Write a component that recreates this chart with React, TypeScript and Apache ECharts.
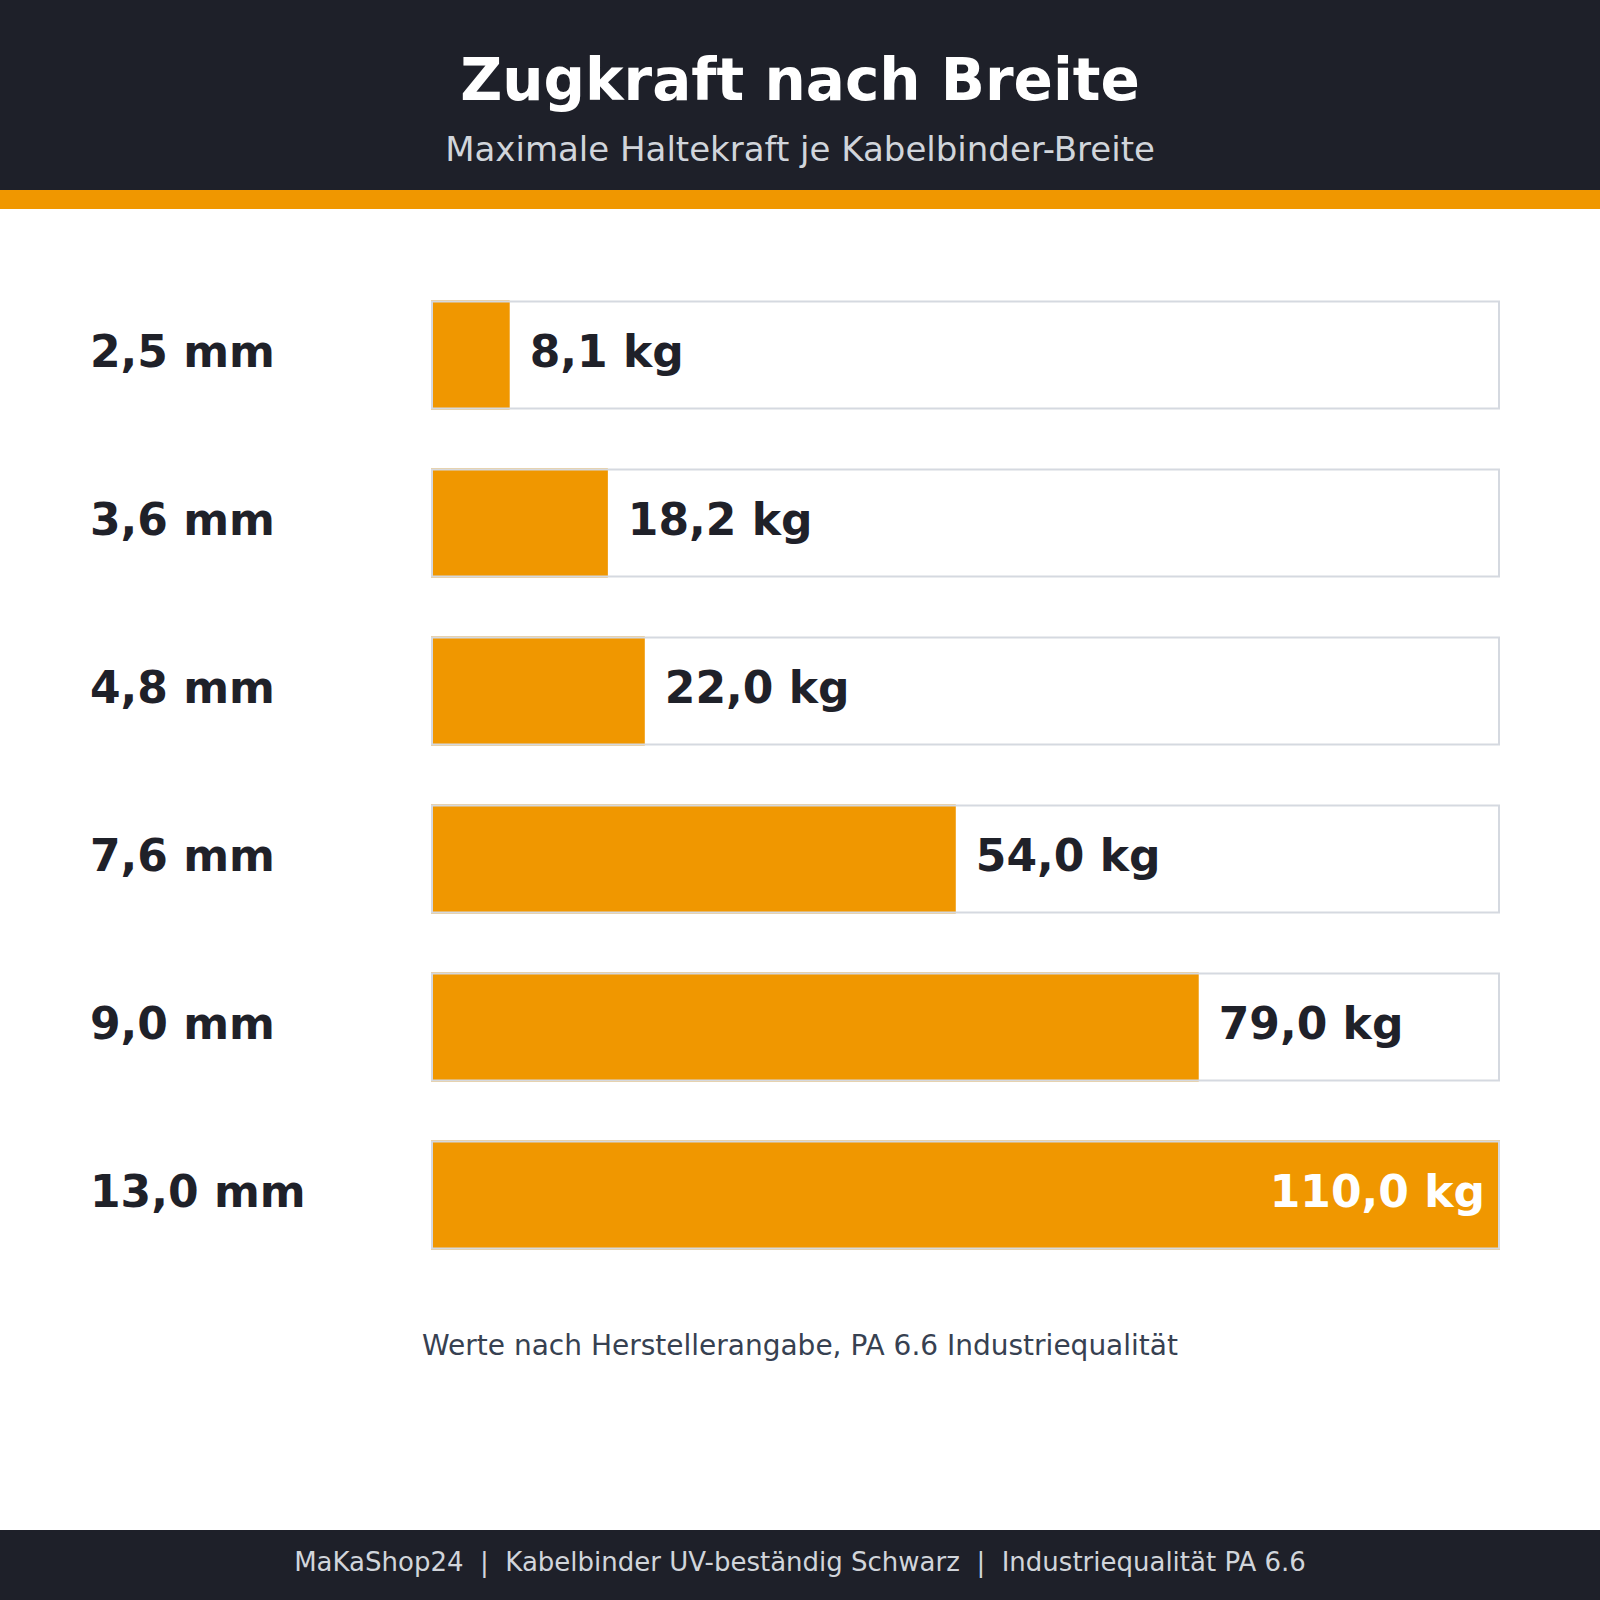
import React, { useEffect, useRef } from "react";
import * as echarts from "echarts";

const categories = ["2,5 mm", "3,6 mm", "4,8 mm", "7,6 mm", "9,0 mm", "13,0 mm"];
const values = [8.1, 18.2, 22.0, 54.0, 79.0, 110.0];
const axisMax = 110;
const trackValues = [110, 110, 110, 110, 110, 110];

const titleText = "Zugkraft nach Breite";
const subtitleText = "Maximale Haltekraft je Kabelbinder-Breite";
const noteText = "Werte nach Herstellerangabe, PA 6.6 Industriequalität";
const footerText = "MaKaShop24  |  Kabelbinder UV-beständig Schwarz  |  Industriequalität PA 6.6";

const FONT = "'DejaVu Sans', sans-serif";
const ORANGE = "#F09700";
const DARK = "#1E2029";
const TEXT_DARK = "#1F2129";

const fmt = (v: number) => v.toFixed(1).replace(".", ",") + " kg";

export default function App() {
  const ref = useRef<HTMLDivElement>(null);
  useEffect(() => {
    document.body.style.margin = "0";
    if (!ref.current) return;
    const chart = echarts.init(ref.current, null, { renderer: "svg" });
    chart.setOption({
      animation: false,
      backgroundColor: "#FFFFFF",
      grid: { left: 431, right: 100, top: 271, height: 1008, containLabel: false },
      xAxis: {
        type: "value",
        min: 0,
        max: axisMax,
        show: false,
      },
      yAxis: {
        type: "category",
        data: categories,
        inverse: true,
        axisLine: { show: false },
        axisTick: { show: false },
        splitLine: { show: false },
        axisLabel: {
          align: "left",
          margin: 341,
          formatter: (v: string) => "{c|" + v + "}",
          rich: {
            c: {
              fontSize: 44,
              fontWeight: "bold",
              fontFamily: FONT,
              color: TEXT_DARK,
              padding: [0, 0, 8, 0],
            },
          },
        },
      },
      series: [
        {
          type: "bar",
          data: values.map((v) =>
            v >= axisMax * 0.9
              ? {
                  value: v,
                  label: { position: "insideRight", distance: 15, color: "#FFFFFF" },
                }
              : v
          ),
          barWidth: 109,
          itemStyle: { color: ORANGE },
          showBackground: true,
          backgroundStyle: { color: "#FFFFFF" },
          label: {
            show: true,
            position: "right",
            distance: 20,
            offset: [0, -4],
            formatter: (p: any) => fmt(p.value),
            fontSize: 44,
            fontWeight: "bold",
            fontFamily: FONT,
            color: TEXT_DARK,
          },
          z: 2,
        },
        {
          type: "bar",
          data: trackValues,
          barWidth: 109,
          barGap: "-100%",
          silent: true,
          itemStyle: { color: "rgba(0,0,0,0)", borderColor: "#D5D9E0", borderWidth: 2 },
          z: 3,
        },
      ],
      graphic: [
        { type: "rect", shape: { x: 0, y: 0, width: 1600, height: 190 }, style: { fill: DARK }, z: 0 },
        { type: "rect", shape: { x: 0, y: 190, width: 1600, height: 19 }, style: { fill: ORANGE }, z: 0 },
        {
          type: "text",
          x: 800,
          y: 80,
          style: {
            text: titleText,
            fill: "#FFFFFF",
            fontSize: 58,
            fontWeight: "bold",
            fontFamily: FONT,
            align: "center",
            verticalAlign: "middle",
          },
        },
        {
          type: "text",
          x: 800,
          y: 149,
          style: {
            text: subtitleText,
            fill: "#D1D5DB",
            fontSize: 34,
            fontFamily: FONT,
            align: "center",
            verticalAlign: "middle",
          },
        },
        {
          type: "text",
          x: 800,
          y: 1345,
          style: {
            text: noteText,
            fill: "#374151",
            fontSize: 28,
            fontFamily: FONT,
            align: "center",
            verticalAlign: "middle",
          },
        },
        { type: "rect", shape: { x: 0, y: 1530, width: 1600, height: 70 }, style: { fill: DARK }, z: 0 },
        {
          type: "text",
          x: 800,
          y: 1562,
          style: {
            text: footerText,
            fill: "#D1D5DB",
            fontSize: 26,
            fontFamily: FONT,
            align: "center",
            verticalAlign: "middle",
          },
        },
      ],
    });
    return () => chart.dispose();
  }, []);
  return <div ref={ref} style={{ width: 1600, height: 1600 }} />;
}
